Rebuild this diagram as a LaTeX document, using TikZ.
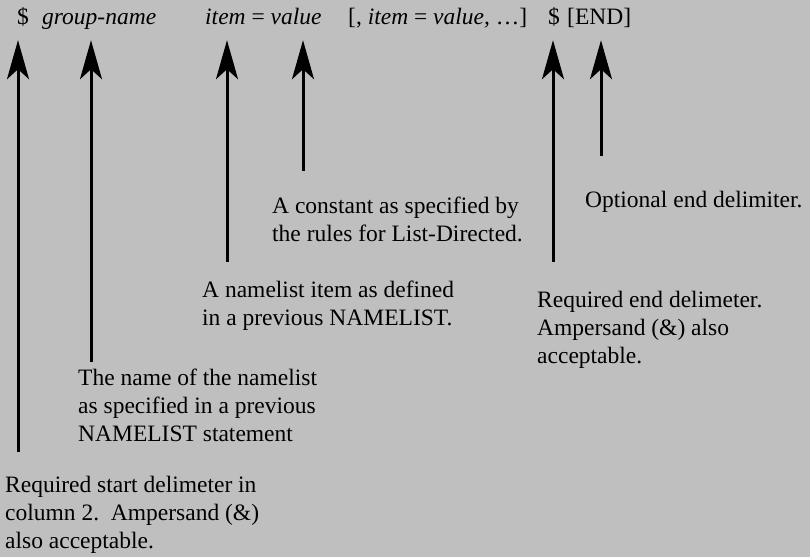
\documentclass[tikz,border=0pt]{standalone}
\usepackage{fontspec}
\setmainfont{Liberation Serif}
\usetikzlibrary{arrows.meta}
\tikzset{pointer/.style={line width=3pt,-{Stealth[length=39pt,width=22pt,inset=10pt]}}}
\tikzset{token/.style={anchor=base west,inner sep=0pt,text depth=16pt}}
\tikzset{note/.style={anchor=base west,inner sep=0pt,align=left}}

\begin{document}
\begin{tikzpicture}[x=1pt,y=-1pt,font=\fontsize{23.5}{28}\selectfont]
      \fill [black!25] (0,0) rectangle (810,557);
      \useasboundingbox (0,0) rectangle (810,557);
      \node [token] (dollar) at (17,24) {\$};
      \node [token] (group) at (42,24) {\itshape group-name};
      \node [token] (itemval) at (205,24) {{\itshape item} = {\itshape value}};
      \node [token] (more) at (348,24) {[, {\itshape item} = {\itshape value,} \dots]};
      \node [token] (enddollar) at (548,24) {\$};
      \node [token] (endkw) at (567,24) {[END]};
      \node [note] (startnote) at (5,548) {Required start delimeter in\\column 2.\ \ Ampersand (\&)\\also acceptable.};
      \node [note] (namenote) at (78,441) {The name of the namelist\\as specified in a previous\\NAMELIST statement};
      \node [note] (itemnote) at (202,325) {A namelist item as defined\\in a previous NAMELIST.};
      \node [note] (valuenote) at (272,241) {A constant as specified by\\the rules for List-Directed.};
      \node [note] (endnote) at (537,363) {Required end delimeter.\\Ampersand (\&) also\\acceptable.};
      \node [note] (optnote) at (585,207) {Optional end delimiter.};
      \coordinate (footstart) at (18,452);
      \coordinate (footname) at (91,362);
      \coordinate (footitem) at (227,262);
      \coordinate (footvalue) at (303,171);
      \coordinate (footend) at (553,262);
      \coordinate (footopt) at (601,156);
      \draw [pointer] (footstart) -- (footstart |- dollar.south);
      \draw [pointer] (footname) -- (footname |- group.south);
      \draw [pointer] (footitem) -- (footitem |- itemval.south);
      \draw [pointer] (footvalue) -- (footvalue |- itemval.south);
      \draw [pointer] (footend) -- (footend |- enddollar.south);
      \draw [pointer] (footopt) -- (footopt |- endkw.south);
    \end{tikzpicture}
\end{document}
